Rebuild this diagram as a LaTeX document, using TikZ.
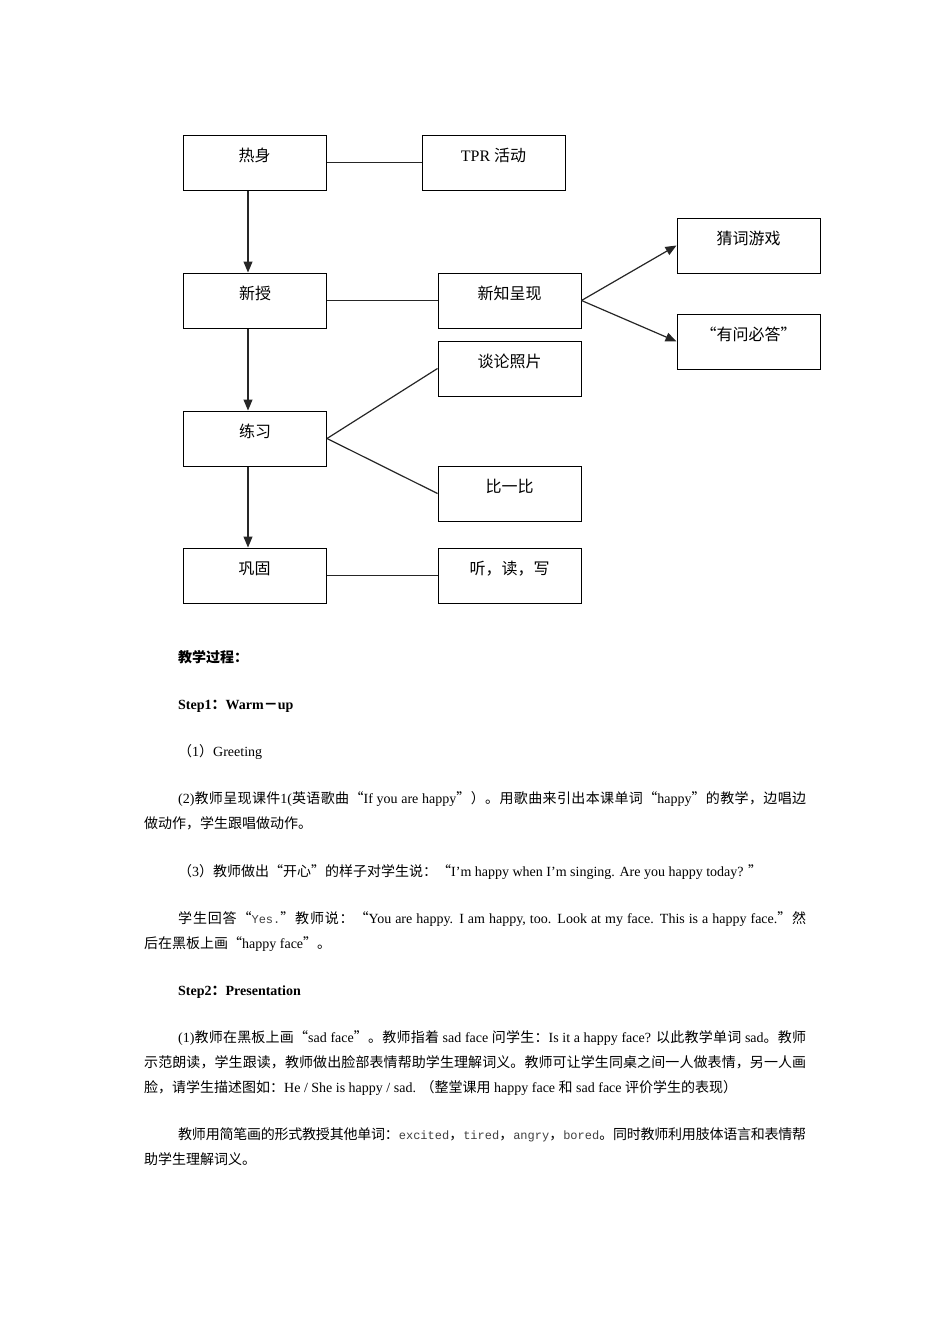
\documentclass[tikz,border=0pt]{standalone}
\usepackage{fontspec}
\setmainfont{Liberation Serif}
\setmonofont{Liberation Mono}
\newfontfamily\cjk{Noto Sans CJK SC}
\usetikzlibrary{arrows.meta}
\XeTeXinterchartokenstate=1
\newXeTeXintercharclass\CJKcls
\newcount\cjkn
\def\cjkrange#1#2{\cjkn=#1\relax\loop\XeTeXcharclass\cjkn=\CJKcls\relax\ifnum\cjkn<#2\relax\advance\cjkn by 1\relax\repeat}
\cjkrange{"4E00}{"9FFF}
\cjkrange{"3000}{"303F}
\cjkrange{"FF00}{"FFEF}
\XeTeXcharclass"201C=\CJKcls\relax
\XeTeXcharclass"201D=\CJKcls\relax
\XeTeXinterchartoks 0 \CJKcls = {\cjk}
\XeTeXinterchartoks 4095 \CJKcls = {\cjk}
\XeTeXinterchartoks \CJKcls 0 = {\rmfamily}
\XeTeXinterchartoks \CJKcls 4095 = {\rmfamily}
\XeTeXinterchartoks \CJKcls \CJKcls = {\hskip 0pt plus 3pt minus 0.5pt\relax}
\tikzset{
  box/.style={draw=black, line width=1pt, minimum width=143pt, minimum height=55pt,
    inner sep=0pt, text height=12pt, text depth=14pt, font=\fontsize{16}{16}\selectfont},
  conn/.style={draw=black!85, line width=1.2pt},
  arr/.style={conn, -{Triangle[length=11pt,width=9pt]}},
  txt/.style={anchor=base west, inner sep=0pt, font=\fontsize{14}{14}\selectfont}
}
\newcommand{\mt}[1]{{\ttfamily\fontsize{12}{12}\selectfont\color{black!75}#1}}
\begin{document}
\begin{tikzpicture}[x=1pt,y=-1pt]
\useasboundingbox[fill=white] (0,0) rectangle (950,1344);
% diagram
\node[box] (warm) at (254.5,162.5) {热身};
\node[box] (tpr) at (493.5,162.5) {TPR 活动};
\node[box] (new) at (255,300.5) {新授};
\node[box] (show) at (509.5,300.5) {新知呈现};
\node[box] (guess) at (748.5,245.5) {猜词游戏};
\node[box] (ask) at (748.5,341.5) {“有问必答”};
\node[box] (talk) at (509.5,368.5) {谈论照片};
\node[box] (prac) at (255,438.5) {练习};
\node[box] (comp) at (509.5,493.5) {比一比};
\node[box] (cons) at (254.5,575.5) {巩固};
\node[box] (lrw) at (509.5,575.5) {听，读，写};
\draw[conn] (warm) -- (tpr);
\draw[conn] (new) -- (show);
\draw[conn] (cons) -- (lrw);
\draw[arr] ([xshift=-6.5pt]warm.south) -- ([xshift=-7pt]new.north);
\draw[arr] ([xshift=-7pt]new.south) -- ([xshift=-7pt]prac.north);
\draw[arr] ([xshift=-7pt]prac.south) -- ([xshift=-6.5pt]cons.north);
\draw[arr] (show.east) -- (guess.west);
\draw[arr] (show.east) -- (ask.west);
\draw[conn] (prac.east) -- (talk.west);
\draw[conn] (prac.east) -- (comp.west);
% text
\node[txt, font=\fontsize{14}{14}\selectfont\bfseries] (t1) at (178,662) {教学过程：};
\node[txt, font=\fontsize{14}{14}\selectfont\bfseries] (t2) at (178,709) {Step1：Warm－up};
\node[txt] (t3) at (178,756) {（1）Greeting};
\node[txt] (t4) at (178,803) {\hbox to 628pt{(2)教师呈现课件1(英语歌曲“If you are happy”）。用歌曲来引出本课单词“happy”的教学，边唱边}};
\node[txt] (t5) at (144,828) {做动作，学生跟唱做动作。};
\node[txt] (t6) at (178,876) {（3）教师做出“开心”的样子对学生说：“I’m happy when I’m singing. Are you happy today? ”};
\node[txt] (t7) at (178,923) {\hbox to 628pt{学生回答“\mt{Yes.}”教师说：“You are happy. I am happy, too. Look at my face. This is a happy face.”然}};
\node[txt] (t8) at (144,948) {后在黑板上画“happy face”。};
\node[txt, font=\fontsize{14}{14}\selectfont\bfseries] (t9) at (178,995) {Step2：Presentation};
\node[txt] (t10) at (178,1042) {\hbox to 628pt{(1)教师在黑板上画“sad face”。教师指着 sad face 问学生：Is it a happy face? 以此教学单词 sad。教师}};
\node[txt] (t11) at (144,1067) {\hbox to 662pt{示范朗读，学生跟读，教师做出脸部表情帮助学生理解词义。教师可让学生同桌之间一人做表情，另一人画}};
\node[txt] (t12) at (144,1092) {脸，请学生描述图如：He / She is happy / sad. （整堂课用 happy face 和 sad face 评价学生的表现）};
\node[txt] (t13) at (178,1139) {\hbox to 628pt{教师用简笔画的形式教授其他单词：\mt{excited}，\mt{tired}，\mt{angry}，\mt{bored}。同时教师利用肢体语言和表情帮}};
\node[txt] (t14) at (144,1164) {助学生理解词义。};
\end{tikzpicture}
\end{document}
